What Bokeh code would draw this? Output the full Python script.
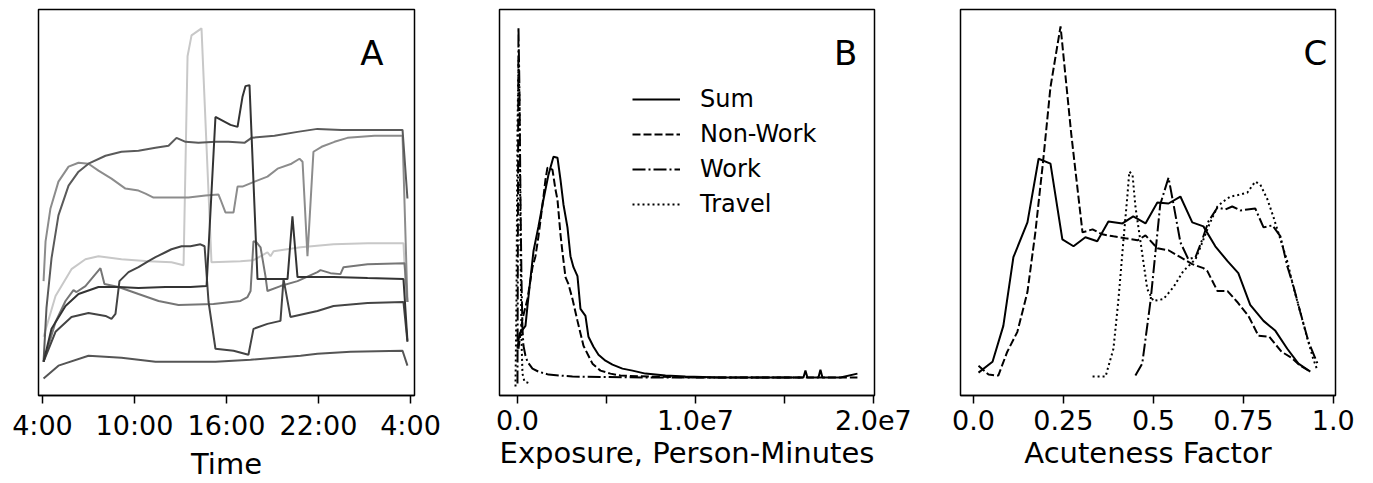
from bokeh.plotting import figure
from bokeh.layouts import row
from bokeh.models import Range1d, FixedTicker, Label, Legend, LegendItem
from bokeh.embed import file_html
from bokeh.resources import INLINE

FONT = "DejaVu Sans"

# ---------------- Panel A: exposure over the day (hours since midnight, arbitrary units)
a_tick_values = [4, 10, 16, 22, 28]
a_tick_labels = ["4:00", "10:00", "16:00", "22:00", "4:00"]

a1_t = [4.07, 4.26, 4.59, 5.04, 5.70, 6.35, 7.00, 8.11, 9.15, 10.26, 11.37, 12.22, 12.74, 13.33, 14.17,
        15.28, 16.13, 17.17, 17.63, 19.13, 20.63, 21.93, 23.50, 25.65, 27.48, 27.80]
a1_v = [34, 88, 138, 181, 211, 225, 233, 241, 245, 246, 249, 251, 259, 255, 254,
        255, 255, 254, 259, 261, 265, 268, 267, 267, 267, 198]

a2_t = [4.07, 4.20, 4.52, 5.04, 5.70, 6.35, 7.00, 7.65, 8.50, 9.41, 10.26, 10.72, 11.24, 12.41, 13.52,
        14.63, 15.48, 15.61, 15.93, 16.46, 16.72, 17.04, 17.83, 18.67, 19.33, 20.24, 20.76, 20.96,
        21.28, 21.67, 22.20, 23.04, 23.89, 25.65, 27.48, 27.80]
a2_v = [115, 155, 188, 215, 230, 234, 233, 226, 218, 208, 206, 203, 199, 199, 199,
        201, 202, 197, 184, 184, 210, 210, 215, 220, 228, 233, 238, 235,
        140, 245, 250, 255, 259, 261, 261, 94]

a3_t = [4.07, 4.85, 5.89, 6.80, 7.65, 9.15, 10.91, 12.41, 13.20, 13.46, 13.72, 14.37, 15.02, 16.91,
        17.76, 18.35, 18.67, 18.87, 19.07, 20.83, 22.98, 25.20, 27.54, 27.74]
a3_v = [59, 100, 127, 137, 140, 137, 135, 134, 131, 341, 362, 369, 134, 135,
        136, 141, 144, 140, 145, 149, 152, 153, 153, 94]

a4_t = [4.07, 4.85, 5.50, 6.02, 6.22, 6.80, 7.78, 8.04, 8.96, 10.26, 11.57, 12.87, 15.15, 16.91,
        17.37, 17.57, 17.76, 17.96, 18.22, 18.54, 18.67, 19.52, 20.63, 21.93, 22.13, 22.78, 23.43,
        23.63, 25.20, 27.61, 27.80]
a4_v = [34, 74, 95, 106, 104, 110, 128, 112, 109, 102, 95, 91, 92, 95,
        99, 105, 155, 154, 149, 120, 105, 110, 115, 124, 126, 123, 122,
        129, 132, 133, 94]

a5_t = [4.07, 4.59, 5.50, 6.35, 7.65, 8.96, 10.26, 12.02, 13.65, 14.70, 15.28, 16.26, 16.72, 17.04,
        17.24, 17.50, 18.02, 19.98, 20.30, 20.63, 22.98, 25.20, 27.54, 27.80]
a5_v = [34, 67, 90, 102, 109, 109, 108, 109, 109, 110, 280, 272, 270, 300,
        311, 312, 117, 117, 180, 119, 119, 118, 117, 55]

a6_t = [4.07, 4.85, 5.89, 7.00, 8.11, 8.50, 8.76, 9.02, 9.61, 10.26, 10.91, 11.37, 12.02, 12.41,
        13.07, 13.65, 14.30, 14.57, 14.83, 15.28, 16.46, 17.43, 17.76, 18.67, 19.52, 19.72, 20.17,
        21.93, 22.98, 25.20, 27.54, 27.80]
a6_v = [34, 64, 79, 83, 80, 77, 82, 115, 124, 129, 135, 139, 144, 147,
        150, 150, 152, 150, 94, 47, 45, 41, 67, 72, 75, 117, 79,
        85, 90, 93, 94, 54]

a7_t = [4.07, 5.04, 7.00, 9.15, 11.37, 13.52, 15.28, 17.57, 20.83, 21.93, 24.09, 27.48, 27.80]
a7_v = [17, 30, 40, 38, 34, 34, 34, 36, 40, 42, 44, 45, 30]

# ---------------- Panel B: exposure distribution (person-minutes, millions)
b_sum_m = [0, 0.112, 0.449, 0.562, 0.899, 1.180, 1.461, 1.742, 2.022, 2.247, 2.416, 2.584, 2.809, 2.978,
           3.146, 3.371, 3.539, 3.820, 3.989, 4.270, 4.551, 4.944, 5.337, 5.899, 6.461, 7.191, 8.315,
           9.438, 11.405, 13.652, 16.067, 16.180, 16.292, 16.910, 17.022, 17.135, 18.146, 19.101]
b_sum_d = [47, 62, 70, 90, 145, 170, 197, 222, 240, 239, 217, 192, 169, 140,
           129, 120, 87, 80, 59, 49, 41, 35, 31, 27, 25, 22, 20,
           19, 18, 18, 18, 25, 18, 18, 26, 18, 18, 22]

b_nonwork_m = [0.056, 0.281, 0.562, 0.843, 1.011, 1.180, 1.461, 1.573, 1.685, 1.966, 2.135, 2.247, 2.416,
               2.528, 2.697, 2.865, 3.090, 3.371, 3.708, 3.989, 4.214, 4.663, 5.225, 5.787, 7.472,
               10.281, 19.101]
b_nonwork_d = [47, 77, 97, 129, 140, 160, 200, 217, 229, 227, 207, 197, 162,
               144, 119, 112, 97, 75, 50, 40, 32, 25, 22, 20, 19,
               18, 18]

b_work_m = [0, 0.056, 0.112, 0.169, 0.225, 0.281, 0.337, 0.449, 0.562, 0.843, 1.180, 1.742, 3.090, 7.472, 15.899]
b_work_d = [12, 370, 307, 197, 117, 67, 50, 40, 34, 27, 24, 21, 19, 18, 18]

b_travel_m = [-0.112, -0.056, 0, 0.056, 0.112, 0.169, 0.225, 0.281, 0.393, 0.730]
b_travel_d = [9, 97, 267, 337, 297, 157, 57, 22, 14, 12]

b_tick_values = [0, 5e6, 1e7, 1.5e7, 2e7]
b_tick_labels = ["0.0", "", "1.0e7", "", "2.0e7"]

# ---------------- Panel C: acuteness factor distribution
c_sum_x = [0.014, 0.053, 0.083, 0.111, 0.150, 0.181, 0.214, 0.247, 0.278, 0.311, 0.344, 0.375, 0.414, 0.444,
           0.478, 0.511, 0.542, 0.575, 0.608, 0.639, 0.672, 0.706, 0.736, 0.769, 0.806, 0.839, 0.872,
           0.903, 0.936]
c_sum_y = [23, 34, 70, 139, 174, 238, 233, 157, 150, 159, 155, 175, 173, 180,
           173, 194, 193, 200, 174, 170, 150, 135, 123, 91, 75, 65, 47,
           32, 24]

c_nonwork_x = [0.014, 0.042, 0.069, 0.094, 0.122, 0.150, 0.172, 0.194, 0.214, 0.242, 0.272, 0.303, 0.331,
               0.358, 0.389, 0.422, 0.456, 0.478, 0.511, 0.542, 0.575, 0.608, 0.639, 0.650, 0.678, 0.706,
               0.733, 0.764, 0.792, 0.822, 0.856, 0.883, 0.908, 0.936]
c_nonwork_y = [30, 21, 20, 44, 64, 104, 164, 237, 310, 371, 262, 164, 167,
               162, 160, 158, 156, 161, 148, 146, 139, 132, 128, 125, 105, 105,
               94, 80, 60, 59, 44, 38, 30, 24]

c_work_x = [0.450, 0.469, 0.492, 0.506, 0.519, 0.542, 0.556, 0.575, 0.597, 0.617, 0.636, 0.653, 0.678,
            0.700, 0.719, 0.742, 0.761, 0.783, 0.806, 0.831, 0.853, 0.872, 0.889, 0.908, 0.931, 0.956]
c_work_y = [20, 32, 95, 145, 192, 219, 192, 154, 137, 139, 157, 175, 189,
            187, 190, 186, 187, 188, 169, 171, 160, 130, 110, 84, 54, 32]

c_travel_x = [0.331, 0.367, 0.389, 0.403, 0.417, 0.428, 0.433, 0.442, 0.450, 0.464, 0.483, 0.500, 0.528,
              0.556, 0.583, 0.617, 0.636, 0.653, 0.678, 0.694, 0.714, 0.742, 0.761, 0.783, 0.797, 0.817,
              0.833, 0.853, 0.872, 0.889, 0.908, 0.928, 0.944, 0.956]
c_travel_y = [19, 19, 47, 97, 157, 202, 225, 222, 190, 155, 107, 95, 97,
              109, 125, 137, 154, 170, 190, 195, 200, 202, 204, 215, 212, 197,
              180, 157, 135, 109, 84, 57, 37, 25]

c_tick_values = [0, 0.25, 0.5, 0.75, 1.0]
c_tick_labels = ["0.0", "0.25", "0.5", "0.75", "1.0"]

series_names = ["Sum", "Non-Work", "Work", "Travel"]
series_dash = ["solid", "8 3", "13 3 2 3", "2 3"]


def base(width, left, right, xr, ticks, labels, title):
    p = figure(width=width, height=483, output_backend="svg", toolbar_location=None,
               min_border_left=left, min_border_right=right, min_border_top=9, min_border_bottom=86,
               x_range=xr, y_range=Range1d(0, 388))
    p.yaxis.visible = False
    p.xgrid.visible = False
    p.ygrid.visible = False
    p.outline_line_color = "black"
    p.outline_line_width = 1.5
    p.outline_line_alpha = 1
    ax = p.xaxis[0]
    ax.ticker = FixedTicker(ticks=ticks)
    ax.major_label_overrides = {t: l for t, l in zip(ticks, labels)}
    ax.axis_line_color = "black"
    ax.axis_line_width = 1.5
    ax.major_tick_out = 8
    ax.major_tick_in = 0
    ax.minor_tick_out = 0
    ax.minor_tick_in = 0
    ax.major_tick_line_width = 1.5
    ax.major_tick_line_color = "black"
    ax.major_label_text_font = FONT
    ax.major_label_text_font_size = "27px"
    ax.major_label_text_color = "black"
    ax.major_label_standoff = 6
    ax.axis_label = title
    ax.axis_label_text_font = FONT
    ax.axis_label_text_font_size = "29px"
    ax.axis_label_text_font_style = "normal"
    ax.axis_label_text_color = "black"
    ax.axis_label_standoff = 3
    return p


# Panel A
pa = base(460, 38, 46, Range1d(3.74, 28.26), a_tick_values, a_tick_labels, "Time")
a_lines = [(a3_t, a3_v, "#c8c8c8"), (a2_t, a2_v, "#8c8c8c"), (a4_t, a4_v, "#767676"),
           (a1_t, a1_v, "#5a5a5a"), (a7_t, a7_v, "#555555"), (a6_t, a6_v, "#444444"),
           (a5_t, a5_v, "#333333")]
for t, v, c in a_lines:
    pa.line(t, v, line_color=c, line_width=2)
pa.add_layout(Label(x=26.24, y=344, text="A", text_align="right", text_baseline="alphabetic",
                    text_font=FONT, text_font_size="34px", text_color="black"))

# Panel B
pb = base(460, 39, 46, Range1d(-1.01e6, 2.006e7), b_tick_values, b_tick_labels, "Exposure, Person-Minutes")
b_data = [(b_sum_m, b_sum_d), (b_nonwork_m, b_nonwork_d), (b_work_m, b_work_d), (b_travel_m, b_travel_d)]
items = []
for (m, d), name, dash in zip(b_data, series_names, series_dash):
    r = pb.line([x * 1e6 for x in m], d, line_color="black", line_width=2, line_dash=dash)
    items.append(LegendItem(label=name, renderers=[r]))
leg = Legend(items=items, location=(133, 177), label_text_font=FONT, label_text_font_size="24px",
             glyph_width=48, glyph_height=24, label_standoff=20, spacing=7, padding=0, margin=0,
             border_line_alpha=0, background_fill_alpha=0, label_text_color="black")
pb.add_layout(leg)
pb.add_layout(Label(x=1.91e7, y=344, text="B", text_align="right", text_baseline="alphabetic",
                    text_font=FONT, text_font_size="34px", text_color="black"))

# Panel C
pc = base(453, 40, 38, Range1d(-0.036, 1.006), c_tick_values, c_tick_labels, "Acuteness Factor")
c_data = [(c_sum_x, c_sum_y), (c_nonwork_x, c_nonwork_y), (c_work_x, c_work_y), (c_travel_x, c_travel_y)]
for (x, y), dash in zip(c_data, series_dash):
    pc.line(x, y, line_color="black", line_width=2, line_dash=dash)
pc.add_layout(Label(x=0.983, y=344, text="C", text_align="right", text_baseline="alphabetic",
                    text_font=FONT, text_font_size="34px", text_color="black"))

layout = row(pa, pb, pc, spacing=0)
open("out.html", "w").write(file_html(layout, INLINE))
